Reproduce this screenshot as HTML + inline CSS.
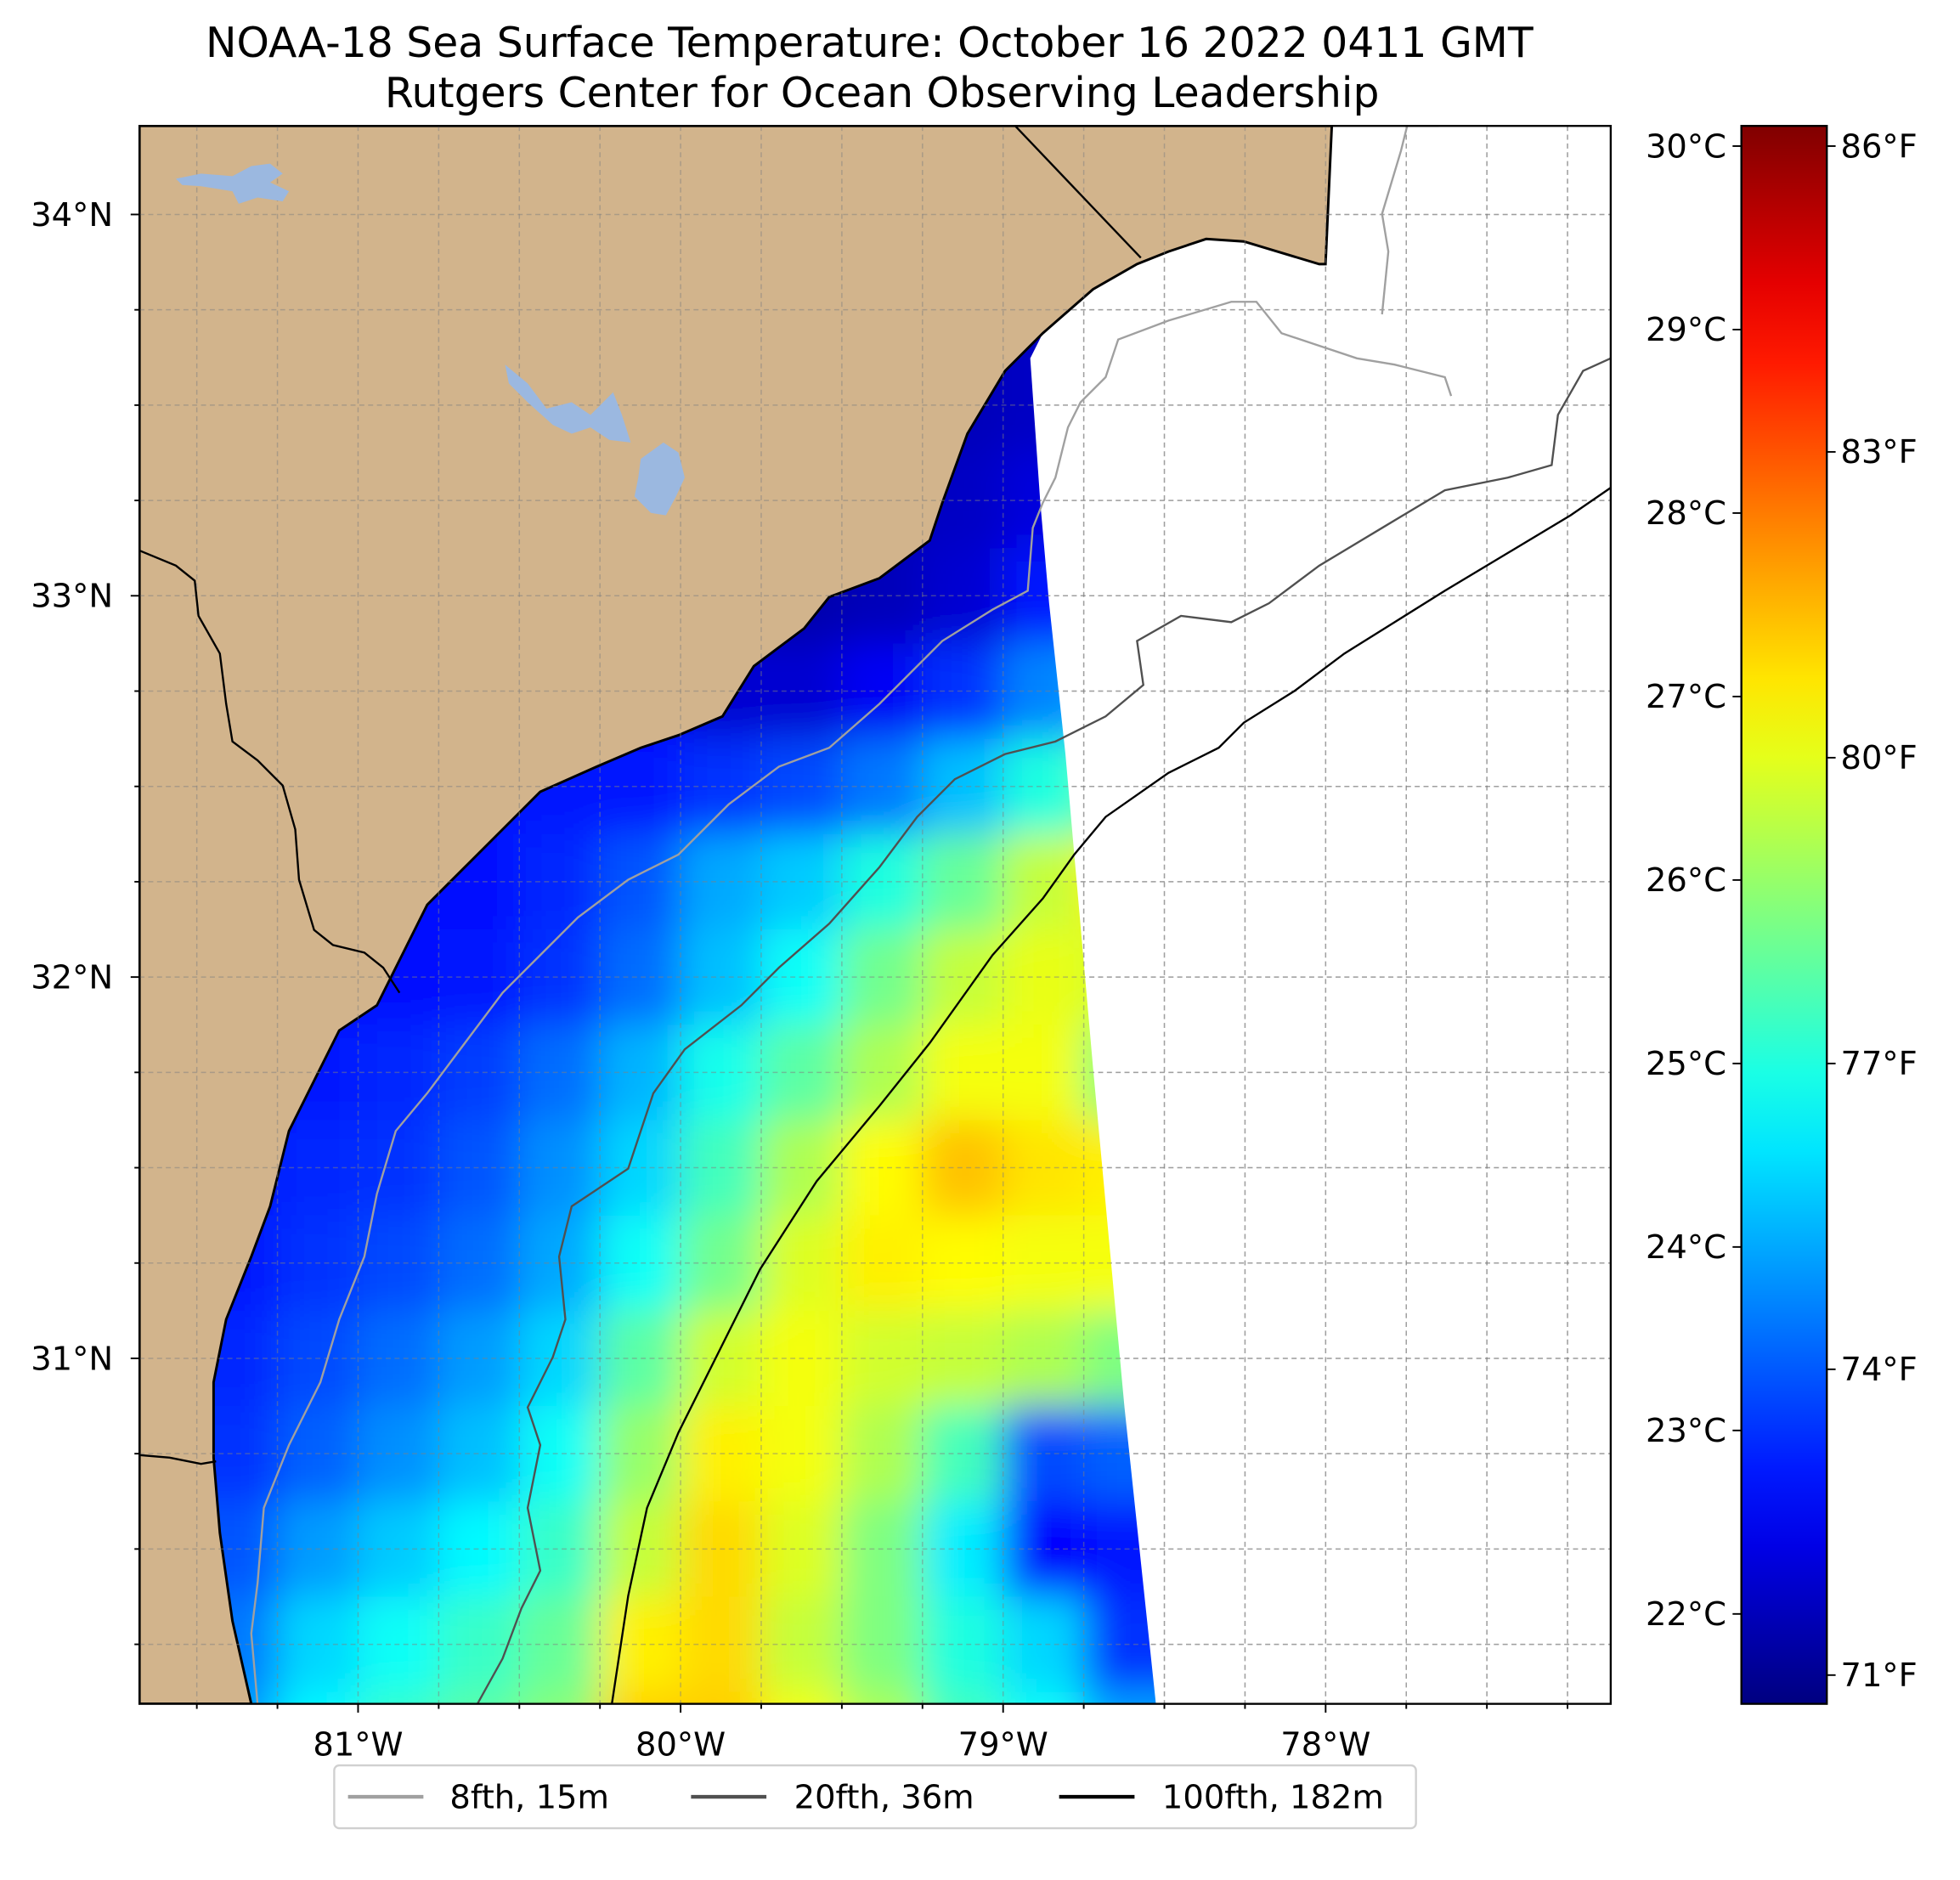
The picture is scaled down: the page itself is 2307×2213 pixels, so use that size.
<!DOCTYPE html>
<html><head><meta charset="utf-8"><style>
html,body{margin:0;padding:0;background:#fff;}
svg{display:block;}
text{font-family:"DejaVu Sans","Liberation Sans",sans-serif;fill:#000;}
</style></head><body>
<svg id="chart" width="2307" height="2213" viewBox="0 0 1560 1496" xmlns="http://www.w3.org/2000/svg">
<defs>
<clipPath id="plotclip"><rect x="111" y="100" width="1171" height="1256"/></clipPath>
<clipPath id="swathclip"><polygon id="swathpoly" points=""/></clipPath>
<filter id="blur" x="-5%" y="-5%" width="110%" height="110%"><feGaussianBlur stdDeviation="16"/></filter>
<linearGradient id="cbgrad" x1="0" y1="1" x2="0" y2="0"></linearGradient>
</defs>
<rect x="0" y="0" width="1560" height="1496" fill="#fff"/>
<text x="692" y="45" font-size="33" text-anchor="middle">NOAA-18 Sea Surface Temperature: October 16 2022 0411 GMT</text>
<text x="702" y="85" font-size="33" text-anchor="middle">Rutgers Center for Ocean Observing Leadership</text>
<g clip-path="url(#plotclip)">
  <g id="gridlines"></g>
  <g clip-path="url(#swathclip)"><g id="heat" filter="url(#blur)"></g></g>
  <polygon id="land" fill="#d2b48c" stroke="#000" stroke-width="2" points=""/>
  <g id="gridlines2"></g>
  <polygon fill="#9bb8e0" points="140,142 160,138 185,140 200,132 215,130 225,138 215,145 230,152 225,160 205,157 190,162 185,152 160,148 145,147"/>
  <polygon fill="#9bb8e0" points="402,290 420,305 435,325 455,320 470,330 488,312 495,330 502,352 485,350 470,340 455,345 440,338 420,320 405,305"/>
  <polygon fill="#9bb8e0" points="510,365 528,352 540,360 545,380 538,395 530,410 518,408 505,395 508,380"/>
  <polyline fill="none" stroke="#000" stroke-width="1.6" points="808,100 908,205"/>
  <polyline fill="none" stroke="#000" stroke-width="1.6" points="111,438 140,450 155,462 158,490 175,520 180,560 185,590 205,605 225,625 235,660 238,700 250,740 265,752 290,758 305,770 318,790"/>
  <polyline fill="none" stroke="#000" stroke-width="1.6" points="111,1158 135,1160 160,1165 172,1163"/>
  <polyline id="c8" fill="none" stroke="#a0a0a0" stroke-width="1.6" points="205,1356 200,1300 205,1260 210,1200 230,1150 255,1100 270,1050 290,1000 300,950 315,900 340,870 370,830 400,790 430,760 460,730 500,700 540,680 580,640 620,610 660,595 700,560 750,510 790,485 818,470 822,420 830,400 840,380 850,340 860,320 880,300 890,270 930,255 980,240 1000,240 1020,265 1050,275 1080,285 1110,290 1150,300 1155,315"/>
  <polyline fill="none" stroke="#a0a0a0" stroke-width="1.6" points="1100,250 1105,200 1100,170 1115,120 1120,100 1145,100"/>
  <polyline id="c20" fill="none" stroke="#505050" stroke-width="1.6" points="380,1356 400,1320 415,1280 430,1250 420,1200 430,1150 420,1120 440,1080 450,1050 445,1000 455,960 500,930 520,870 545,835 590,800 620,770 660,735 700,690 730,650 760,620 800,600 840,590 880,570 910,545 905,510 940,490 980,495 1010,480 1050,450 1100,420 1150,390 1200,380 1235,370 1240,330 1260,295 1282,285"/>
  <polyline id="c100" fill="none" stroke="#000" stroke-width="1.6" points="487,1356 500,1270 515,1200 540,1140 570,1080 605,1010 650,940 700,880 740,830 790,760 830,715 855,680 880,650 930,615 970,595 990,575 1030,550 1070,520 1110,495 1150,470 1200,440 1250,410 1282,388"/>
</g>
<rect x="111" y="100" width="1171" height="1256" fill="none" stroke="#000" stroke-width="1.6"/>
<g id="axes"></g>
<rect x="1386" y="100" width="68" height="1256" fill="url(#cbgrad)" stroke="#000" stroke-width="1.6"/>
<g id="cbaxes"></g>
<g>
  <rect x="266" y="1405" width="861" height="50" rx="4" fill="#fff" stroke="#d0d0d0" stroke-width="1.6"/>
  <line x1="277" y1="1430" x2="337" y2="1430" stroke="#a0a0a0" stroke-width="3"/>
  <text x="358" y="1439" font-size="26">8fth, 15m</text>
  <line x1="550" y1="1430" x2="610" y2="1430" stroke="#505050" stroke-width="3"/>
  <text x="632" y="1439" font-size="26">20fth, 36m</text>
  <line x1="843" y1="1430" x2="903" y2="1430" stroke="#000" stroke-width="3"/>
  <text x="925" y="1439" font-size="26">100fth, 182m</text>
</g>
</svg>
<script>
const NS="http://www.w3.org/2000/svg";
// ---- data ----
const lonCenters=[-81.375,-81.125,-80.875,-80.625,-80.375,-80.125,-79.875,-79.625,-79.375,-79.125,-78.875,-78.625];
const latCenters=[33.5,33.25,33.0,32.75,32.5,32.25,32.0,31.75,31.5,31.25,31.0,30.75,30.5,30.25,30.0];
const sstRow0=[22,22,22,22,22,22,22,22,22,22,22.1,22.1];
const sstRow1=[22,22,22,22,22,22,22,22,22,22.1,22.3,22.5];
const sstRow2=[22,22,22,22,22,22,22,21.9,22,22.2,22.8,23.2];
const sstRow3=[22.6,22.6,22.6,22.6,22.6,22.6,22.2,22.2,22.5,23,23.7,24.2];
const sstRow4=[22.8,22.8,22.8,22.8,22.8,22.8,23,23.2,23.6,24.2,25,25.8];
const sstRow5=[22.7,22.7,22.7,22.7,22.9,23.3,24,24.3,25,25.6,26.4,27];
const sstRow6=[22.7,22.7,22.7,22.8,23,23.5,24.2,24.8,25.7,26.4,26.7,26.5];
const sstRow7=[22.8,22.8,22.9,23.1,23.5,24.1,24.9,25.5,26.2,26.8,26.8,25.8];
const sstRow8=[22.8,22.9,23,23.3,23.8,24.4,25.3,26.2,26.9,27.4,27.1,27];
const sstRow9=[22.8,23,23.2,23.5,24,24.8,25.7,26.6,27,26.9,26.8,26.8];
const sstRow10=[22.9,23.2,23.5,23.9,24.4,25.5,26.5,26.8,26.5,26.4,26.2,25.8];
const sstRow11=[23,23.4,23.8,24.2,24.8,26,27,26.8,26.2,25.3,23.2,23.4];
const sstRow12=[23.3,23.9,24.3,24.7,25.2,26.4,27.2,26.6,25.8,24.6,22.6,22.8];
const sstRow13=[23.6,24.4,24.8,25.2,25.6,27,27.2,26.4,25.8,25,24.4,23];
const sstRow14=[23.9,24.7,25.2,25.5,25.9,27.3,27.3,26.8,26.2,25.3,24.8,24];
const sstRows=[sstRow0,sstRow1,sstRow2,sstRow3,sstRow4,sstRow5,sstRow6,sstRow7,sstRow8,sstRow9,sstRow10,sstRow11,sstRow12,sstRow13,sstRow14];
const lonTicks=[-81,-80,-79,-78];
const lonTickLabels=["81°W","80°W","79°W","78°W"];
const latTicks=[34,33,32,31];
const latTickLabels=["34°N","33°N","32°N","31°N"];
const cTicks=[22,23,24,25,26,27,28,29,30];
const fTicks=[71,74,77,80,83,86];

// ---- scales ----
const xOf=lon=>285+(lon+81)*256.7;
const yOf=lat=>474-(lat-33)*303.5;
const cMin=21.51,cMax=30.11;
const yC=c=>1356-(c-cMin)/(cMax-cMin)*1256;
function jet(t){t=Math.max(0,Math.min(1,t));
 const f=x=>Math.round(255*Math.max(0,Math.min(1,x)));
 return `rgb(${f(1.5-Math.abs(4*t-3))},${f(1.5-Math.abs(4*t-2))},${f(1.5-Math.abs(4*t-1))})`;}
const colorOf=c=>jet((c-cMin)/(cMax-cMin));

// coastline / swath
const coast=[[1060,100],[1055,210],[1050,210],[990,192],[960,190],[930,200],[905,210],[870,230],[830,265],[800,295],[770,345],[750,400],[740,430],[700,460],[660,475],[640,500],[600,530],[575,570],[540,585],[510,595],[475,610],[430,630],[400,660],[370,690],[340,720],[320,760],[300,800],[270,820],[250,860],[230,900],[215,960],[200,1000],[180,1050],[170,1100],[170,1160],[175,1220],[185,1290],[200,1356]];
document.getElementById('land').setAttribute('points',[[111,100],...coast,[111,1356]].map(p=>p.join(',')).join(' '));
const swath=[[820,285],...coast.slice(8),[920,1356],[895,1120],[870,850],[848,600],[835,480],[828,400]];
document.getElementById('swathpoly').setAttribute('points',swath.map(p=>p.join(',')).join(' '));

// heat cells
const heat=document.getElementById('heat');
sstRows.forEach((row,ri)=>{row.forEach((v,ci)=>{
 const x0=xOf(lonCenters[ci]-0.125),x1=xOf(lonCenters[ci]+0.125);
 const y0=yOf(latCenters[ri]+0.125),y1=yOf(latCenters[ri]-0.125);
 const r=document.createElementNS(NS,'rect');
 r.setAttribute('x',x0-(ci==0?60:0));r.setAttribute('y',y0-(ri==0?60:0));
 r.setAttribute('width',x1-x0+1+(ci==0?60:0)+(ci==row.length-1?60:0));
 r.setAttribute('height',y1-y0+1+(ri==0?60:0)+(ri==sstRows.length-1?60:0));
 r.setAttribute('fill',colorOf(v));
 
 
 heat.appendChild(r);});});

// gridlines
function grid(gid){const g=document.getElementById(gid);
 for(let lon=-81.75;lon<=-77;lon+=0.25){const x=xOf(lon);
  const l=document.createElementNS(NS,'line');l.setAttribute('x1',x);l.setAttribute('x2',x);l.setAttribute('y1',100);l.setAttribute('y2',1356);
  l.setAttribute('stroke','#808080');l.setAttribute('stroke-opacity','0.5');l.setAttribute('stroke-width','1');l.setAttribute('stroke-dasharray','4,3');
  
  
  g.appendChild(l);}
 for(let lat=30;lat<=34.25;lat+=0.25){const y=yOf(lat);
  const l=document.createElementNS(NS,'line');l.setAttribute('y1',y);l.setAttribute('y2',y);l.setAttribute('x1',111);l.setAttribute('x2',1282);
  l.setAttribute('stroke','#808080');l.setAttribute('stroke-opacity','0.5');l.setAttribute('stroke-width','1');l.setAttribute('stroke-dasharray','4,3');
  
  
  g.appendChild(l);}}
grid('gridlines');grid('gridlines2');

// axes ticks
const ax=document.getElementById('axes');
function mk(tag,attrs,txt){const e=document.createElementNS(NS,tag);for(const k in attrs)e.setAttribute(k,attrs[k]);if(txt)e.textContent=txt;return e;}
for(let lon=-81.75;lon<=-77;lon+=0.25){const x=xOf(lon);if(x<111||x>1282)continue;
 const major=Math.abs(lon-Math.round(lon))<1e-6;
 const t=mk('line',{x1:x,x2:x,y1:1356,y2:1356+(major?7:4),stroke:'#000','stroke-width':1.3});
 
 
 ax.appendChild(t);}
for(let lat=30;lat<=34.25;lat+=0.25){const y=yOf(lat);if(y<100||y>1356)continue;
 const major=Math.abs(lat-Math.round(lat))<1e-6;
 const t=mk('line',{x1:111-(major?7:4),x2:111,y1:y,y2:y,stroke:'#000','stroke-width':1.3});
 
 
 ax.appendChild(t);}
lonTicks.forEach((lon,i)=>{const t=mk('text',{x:xOf(lon),y:1397,'font-size':26,'text-anchor':'middle'},lonTickLabels[i]);
 
 
 ax.appendChild(t);});
latTicks.forEach((lat,i)=>{const t=mk('text',{x:90,y:yOf(lat)+9,'font-size':26,'text-anchor':'end'},latTickLabels[i]);
 
 
 ax.appendChild(t);});

// colorbar
const grad=document.getElementById('cbgrad');
for(let i=0;i<=20;i++){const s=mk('stop',{offset:(i/20),'stop-color':jet(i/20)});grad.appendChild(s);}
const cb=document.getElementById('cbaxes');
cTicks.forEach(c=>{const y=yC(c);
 const l=mk('line',{x1:1379,x2:1386,y1:y,y2:y,stroke:'#000','stroke-width':1.3});
 
 
 cb.appendChild(l);
 const t=mk('text',{x:1374,y:y+9,'font-size':26,'text-anchor':'end'},c+'°C');
 
 
 cb.appendChild(t);});
fTicks.forEach(f=>{const y=yC((f-32)*5/9);
 const l=mk('line',{x1:1454,x2:1461,y1:y,y2:y,stroke:'#000','stroke-width':1.3});
 
 
 cb.appendChild(l);
 const t=mk('text',{x:1465,y:y+9,'font-size':26},f+'°F');
 
 
 cb.appendChild(t);});
</script>
</body></html>
